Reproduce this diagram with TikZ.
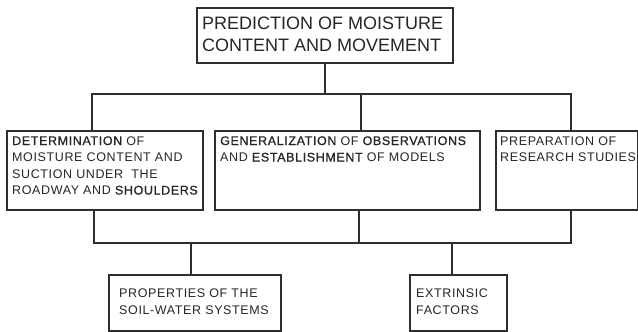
\documentclass[tikz,border=0pt]{standalone}
\usepackage{fontspec}
\setmainfont{Liberation Sans}
\newfontfamily\headfont{Liberation Sans}
\newfontfamily\boxfont[LetterSpace=5]{Liberation Sans}
\newfontfamily\inkfont[LetterSpace=5,FakeBold=0.9]{Liberation Sans}
\begin{document}
\begin{tikzpicture}[x=1pt,y=-1pt,
  ink/.style={draw=black!82, line width=1.5pt},
  box/.style={ink, rectangle, inner sep=0pt, anchor=north west},
  % text nodes are placed by the baseline of their last line
  headtext/.style={anchor=base west, align=left, inner sep=0pt, text=black!85,
    font={\headfont\fontsize{18}{22}\selectfont}},
  boxtext/.style={anchor=base west, align=left, inner sep=0pt, text=black!85,
    font={\boxfont\fontsize{12.5}{16.5}\selectfont}},
  lowtext/.style={boxtext, font={\boxfont\fontsize{12.5}{17}\selectfont}},
  wire/.style={ink, line cap=rect}]
\useasboundingbox (0,0) rectangle (638,332);
\fill[white] (0,0) rectangle (638,332);

% boxes
\node[box, minimum width=256pt, minimum height=55pt] (top) at (196,7) {};
\node[box, minimum width=196pt, minimum height=79pt] (det) at (6,130) {};
\node[box, minimum width=265pt, minimum height=79pt] (gen) at (214,130) {};
\node[box, minimum width=142pt, minimum height=79pt] (prep) at (495,130) {};
\node[box, minimum width=172pt, minimum height=56pt] (prop) at (108,274) {};
\node[box, minimum width=97pt, minimum height=56pt] (extr) at (409,274) {};

% texts
\node[headtext] (topt) at (202,52) {PREDICTION OF MOISTURE\\CONTENT AND MOVEMENT};
\node[boxtext] (dett) at (12,194.5) {{\inkfont DETERMINATION} OF\\MOISTURE CONTENT AND\\SUCTION UNDER\ \ THE\\ROADWAY AND {\inkfont SHOULDERS}};
\node[boxtext] (gent) at (220,161.5) {{\inkfont GENERALIZATION} OF {\inkfont OBSERVATIONS}\\AND {\inkfont ESTABLISHMENT} OF MODELS};
\node[boxtext] (prept) at (500,161.5) {PREPARATION OF\\RESEARCH STUDIES};
\node[lowtext] (propt) at (119,314) {PROPERTIES OF THE\\SOIL-WATER SYSTEMS};
\node[lowtext] (extrt) at (416,314) {EXTRINSIC\\FACTORS};

% upper bus
\coordinate (busA) at (0,94);
\coordinate (dA) at (92,0);
\coordinate (gA) at (361,0);
\coordinate (pA) at (571,0);
\draw[wire] (top.south) -- (top.south |- busA);
\draw[wire] (det.north -| dA) -- (dA |- busA) -- (pA |- busA) -- (prep.north -| pA);
\draw[wire] (gA |- busA) -- (gen.north -| gA);

% lower bus
\coordinate (busB) at (0,243);
\coordinate (dB) at (94,0);
\coordinate (gB) at (359,0);
\coordinate (pB) at (571,0);
\coordinate (rB) at (191,0);
\coordinate (eB) at (452,0);
\draw[wire] (det.south -| dB) -- (dB |- busB) -- (pB |- busB) -- (prep.south -| pB);
\draw[wire] (gen.south -| gB) -- (gB |- busB);
\draw[wire] (rB |- busB) -- (prop.north -| rB);
\draw[wire] (eB |- busB) -- (extr.north -| eB);
\end{tikzpicture}
\end{document}
